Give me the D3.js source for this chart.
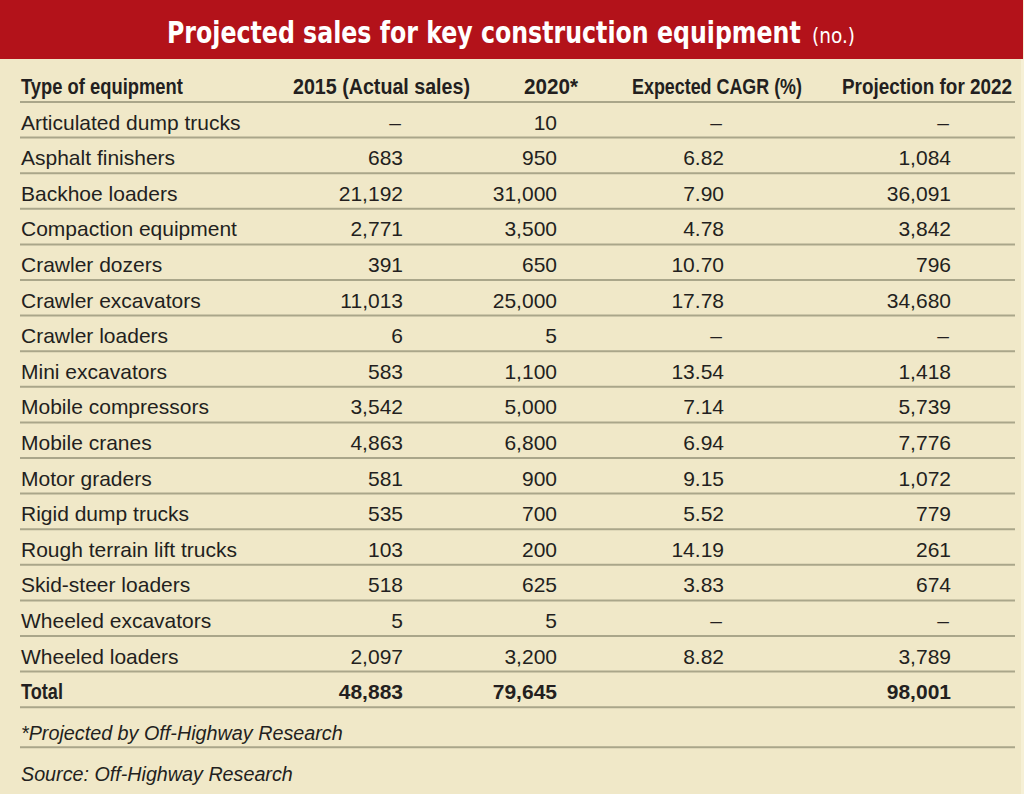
<!DOCTYPE html>
<html>
<head>
<meta charset="utf-8">
<script src="https://cdn.jsdelivr.net/npm/d3@7"></script>
<style>
    html, body { margin: 0; padding: 0; background: #f6f0d6; }
    svg { display: block; }
</style>
</head>
<body>
<div id="table"></div>
<script>
// table content
const titleText = "Projected sales for key construction equipment";
const titleUnit = "(no.)";
const headers = ["Type of equipment", "2015 (Actual sales)", "2020*", "Expected CAGR (%)", "Projection for 2022"];
const equipment = [
    "Articulated dump trucks", "Asphalt finishers", "Backhoe loaders", "Compaction equipment",
    "Crawler dozers", "Crawler excavators", "Crawler loaders", "Mini excavators",
    "Mobile compressors", "Mobile cranes", "Motor graders", "Rigid dump trucks",
    "Rough terrain lift trucks", "Skid-steer loaders", "Wheeled excavators", "Wheeled loaders"
];
const sales2015 = [null, 683, 21192, 2771, 391, 11013, 6, 583, 3542, 4863, 581, 535, 103, 518, 5, 2097];
const sales2020 = [10, 950, 31000, 3500, 650, 25000, 5, 1100, 5000, 6800, 900, 700, 200, 625, 5, 3200];
const cagr = [null, 6.82, 7.90, 4.78, 10.70, 17.78, null, 13.54, 7.14, 6.94, 9.15, 5.52, 14.19, 3.83, null, 8.82];
const proj2022 = [null, 1084, 36091, 3842, 796, 34680, null, 1418, 5739, 7776, 1072, 779, 261, 674, null, 3789];
const totalLabel = "Total";
const totals = [48883, 79645, undefined, 98001];
const footnotes = ["*Projected by Off-Highway Research", "Source: Off-Highway Research"];

const width = 1024, height = 794;
const ink = "#231f20", rule = "#aaa68a";
const body = "'Liberation Sans', Arial, sans-serif";
const cond = "'DejaVu Sans Condensed', 'Liberation Sans', sans-serif";

const fmtCount = d3.format(","),
    fmtPct = d3.format(".2f");

/**
 * @name cellText
 * @description Formats a value for a column; null becomes a dash, undefined stays blank.
 */
function cellText(v, col) {
    if (v === undefined) return "";
    if (v === null) return "–";
    return col === 2 ? fmtPct(v) : fmtCount(v);
}

/**
 * @name squeeze
 * @description Narrows a text horizontally so it spans `target` px from x0 (stand-in for a condensed face).
 */
function squeeze(text, x0, y0, target) {
    const w = text.node().getComputedTextLength();
    text.attr("x", 0)
        .attr("y", 0)
        .attr("transform", `translate(${x0},${y0}) scale(${target / w},1)`);
}

const rows = equipment.map((name, i) => ({
    name: name,
    values: [sales2015[i], sales2020[i], cagr[i], proj2022[i]],
    total: false
}));
rows.push({ name: totalLabel, values: totals, total: true });

const svg = d3.select("#table")
    .append("svg")
    .attr("width", width)
    .attr("height", height);

// background + title band
svg.append("rect")
    .attr("x", 0).attr("y", 0)
    .attr("width", 1021).attr("height", height)
    .attr("fill", "#f0e8c8");

svg.append("rect")
    .attr("x", 0).attr("y", 0)
    .attr("width", 1023).attr("height", 59)
    .attr("fill", "#b3121a");

let title = svg.append("text")
    .attr("fill", "#fff")
    .style("font-family", cond)
    .style("font-size", "31px")
    .style("font-weight", "bold")
    .text(titleText);
squeeze(title, 167, 43, 634);

let unit = svg.append("text")
    .attr("fill", "#fff")
    .style("font-family", cond)
    .style("font-size", "22px")
    .text(titleUnit);
squeeze(unit, 812, 43, 43);

// scales
const left = 20, right = 1015;

const y = d3.scaleBand()
    .domain(d3.range(rows.length))
    .range([102, 707.2])
    .padding(0);

const colRight = d3.scaleOrdinal()
    .domain([0, 1, 2, 3])
    .range([403, 557, 724, 951]);

// header spans [x0, x1]
const headerSpan = [[21, 183], [293, 470], [524, 578], [632, 802], [842, 1012]];

svg.selectAll("text.header")
    .data(headers)
    .enter()
    .append("text")
    .attr("class", "header")
    .attr("fill", ink)
    .style("font-family", body)
    .style("font-weight", "bold")
    .style("font-size", "22px")
    .text((d) => d)
    .each(function (d, i) {
        squeeze(d3.select(this), headerSpan[i][0], 94, headerSpan[i][1] - headerSpan[i][0]);
    });

// rules
const ruleYs = [102].concat(rows.map((d, i) => y(i) + y.bandwidth()), [747.3]);

svg.selectAll("line.rule")
    .data(ruleYs)
    .enter()
    .append("line")
    .attr("class", "rule")
    .attr("x1", left)
    .attr("x2", right)
    .attr("y1", (d) => d)
    .attr("y2", (d) => d)
    .attr("stroke", rule)
    .attr("stroke-width", 2);

// rows
const rowG = svg.selectAll("g.row")
    .data(rows)
    .enter()
    .append("g")
    .attr("class", "row")
    .attr("transform", (d, i) => `translate(0,${y(i) + y.bandwidth() - 8})`)
    .style("font-family", body)
    .style("font-size", "21px")
    .style("font-weight", (d) => (d.total ? "bold" : "normal"))
    .attr("fill", ink);

rowG.append("text")
    .attr("x", 21)
    .text((d) => d.name)
    .each(function (d) {
        if (d.total) {
            const t = d3.select(this).style("font-size", "22px");
            squeeze(t, 21, 0, 42);
        }
    });

rowG.selectAll("text.value")
    .data((d) => d.values.map((v, c) => ({ v: v, c: c })))
    .enter()
    .append("text")
    .attr("class", "value")
    .attr("x", (d) => colRight(d.c) - (d.v === null ? 2 : 0))
    .attr("text-anchor", "end")
    .text((d) => cellText(d.v, d.c));

// footnotes
const footSpan = [322, 272];

svg.selectAll("text.foot")
    .data(footnotes)
    .enter()
    .append("text")
    .attr("class", "foot")
    .attr("fill", ink)
    .style("font-family", body)
    .style("font-style", "italic")
    .style("font-size", "21px")
    .text((d) => d)
    .each(function (d, i) {
        squeeze(d3.select(this), 21, 740 + i * 41, footSpan[i]);
    });
</script>
</body>
</html>
